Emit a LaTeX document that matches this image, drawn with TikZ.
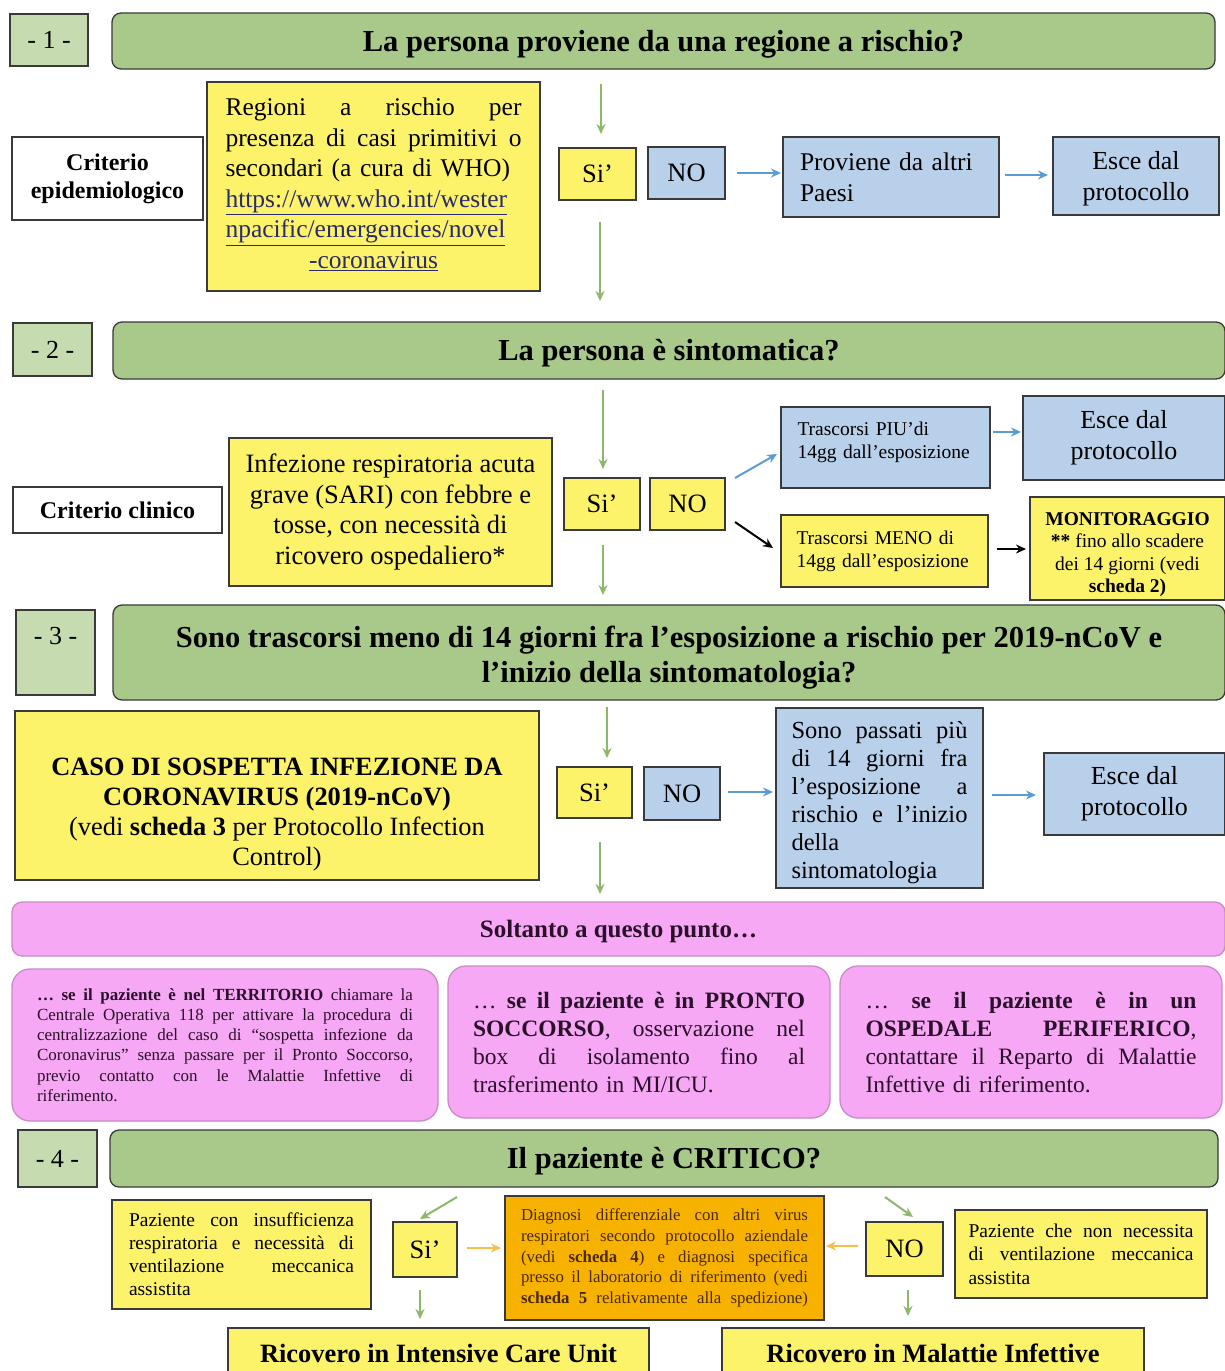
\documentclass[tikz,border=0pt]{standalone}
\usepackage{fontspec}
\setmainfont{Liberation Serif}
\usetikzlibrary{arrows.meta}
\definecolor{tgreen}{HTML}{A9C98B}
\definecolor{ngreen}{HTML}{C6DCB0}
\definecolor{yel}{HTML}{FDF36B}
\definecolor{blu}{HTML}{B9D0EA}
\definecolor{pnk}{HTML}{F7A8F4}
\definecolor{pnkb}{HTML}{C88AC8}
\definecolor{org}{HTML}{F7B200}
\definecolor{agreen}{HTML}{8DB86B}
\definecolor{ablue}{HTML}{5B9BD5}
\definecolor{aorg}{HTML}{F9BE4A}
\definecolor{bord}{HTML}{3A3A3A}
\definecolor{urlc}{HTML}{2B2B6B}
\definecolor{ptext}{HTML}{2A102A}
\definecolor{otext}{HTML}{4A2800}
\newlength\jw
\newcommand\jl[1]{\leavevmode\hbox to \jw{\spaceskip=0.25em plus 1fil\relax #1}}
\newcommand\fs[2]{\fontsize{#1}{#2}\selectfont}
\begin{document}
\begin{tikzpicture}[x=1pt,y=-1pt,
 bx/.style={draw=bord,line width=1.3pt,inner sep=0pt,align=center,text=black},
 txt/.style={inner sep=0pt,align=center},
 jwid/.style={text width=#1,align=left},
 gbar/.style={bx,fill=tgreen,rounded corners=9pt,font=\fs{30.5}{35}\bfseries},
 gline/.style={text height=20pt,text depth=0pt},
 num/.style={bx,fill=ngreen,font=\fs{26}{28}},
 ybox/.style={bx,fill=yel},
 bbox/.style={bx,fill=blu},
 wbox/.style={bx,fill=white,font=\fs{24}{28}\bfseries},
 obox/.style={bx,fill=org,text=otext},
 pbox/.style={draw=pnkb,line width=1.3pt,fill=pnk,inner sep=0pt,text=ptext,rounded corners=18pt},
 yn/.style={font=\fs{26.5}{28}},
 garrow/.style={draw=agreen,line width=2pt,-{Stealth[length=10pt,width=9pt]}},
 barrow/.style={draw=ablue,line width=2pt,-{Stealth[length=10pt,width=9pt]}},
 karrow/.style={draw=black,line width=2pt,-{Stealth[length=10pt,width=9pt]}},
 oarrow/.style={draw=aorg,line width=2pt,-{Stealth[length=10pt,width=9pt]}},
]
\useasboundingbox[fill=white] (0,0) rectangle (1225,1371);

% ---------- Section 1
\node[num,minimum width=78,minimum height=52] (n1) at (49,40) {- 1 -};
\node[gbar,gline,minimum width=1103,minimum height=56] (t1) at (663.5,41) {La persona proviene da una regione a rischio?};
\node[wbox,minimum width=191,minimum height=83] (crit1) at (107.5,178.5) {Criterio\\epidemiologico};
\node[ybox,minimum width=333,minimum height=209] (reg) at (373.5,186.5) {};
\node[txt,jwid=296pt,font=\fs{25.5}{30.5}] (regt) at (373.5,184.5)
 {\setlength\jw{296pt}%
  \jl{Regioni a rischio per}\\
  \jl{presenza di casi primitivi o}\\
  secondari (a cura di WHO)\\
  \textcolor{urlc}{\underline{https://www.who.int/wester}}\\
  \textcolor{urlc}{\underline{npacific/emergencies/novel}}\\
  \jl{\hfil\textcolor{urlc}{\underline{-coronavirus}}\hfil}};
\node[ybox,yn,minimum width=77,minimum height=52] (si1) at (597.5,174) {Si’};
\node[bbox,yn,minimum width=77,minimum height=52] (no1) at (686.5,173) {NO};
\node[bbox,minimum width=216,minimum height=80,text width=182,align=left,font=\fs{25.5}{31}] (prov) at (891,177) {Proviene da altri\\Paesi};
\node[bbox,minimum width=166,minimum height=78] (esce1) at (1136,176) {};
\node[txt,font=\fs{26}{31}] (esce1t) at (1136,179) {Esce dal\\protocollo};
\coordinate (a1a) at (601,84);   \coordinate (a1b) at (601,134);
\coordinate (a1c) at (600,222);  \coordinate (a1d) at (600,301);
\coordinate (a1e) at (737,173);  \coordinate (a1f) at (781,173);
\coordinate (a1g) at (1005,175); \coordinate (a1h) at (1048,175);
\draw[garrow] (a1a) -- (a1b);
\draw[garrow] (a1c) -- (a1d);
\draw[barrow] (a1e) -- (a1f);
\draw[barrow] (a1g) -- (a1h);

% ---------- Section 2
\node[num,minimum width=79,minimum height=53] (n2) at (52.5,349.5) {- 2 -};
\node[gbar,gline,minimum width=1112,minimum height=57] (t2) at (669,350.5) {La persona è sintomatica?};
\node[wbox,minimum width=209,minimum height=46] (crit2) at (117.5,510) {Criterio clinico};
\node[ybox,minimum width=323,minimum height=148,font=\fs{26.5}{30.5}] (sari) at (390.5,512)
 {Infezione respiratoria acuta\\grave (SARI) con febbre e\\tosse, con necessità di\\ricovero ospedaliero*};
\node[ybox,yn,minimum width=76,minimum height=52] (si2) at (602,504) {Si’};
\node[ybox,yn,minimum width=75,minimum height=52] (no2) at (687.5,504) {NO};
\node[bbox,minimum width=209,minimum height=81] (piu) at (885.5,447.5) {};
\node[txt,text width=176,align=left,font=\fs{19.5}{23}] (piut) at (885.5,442.5) {Trascorsi PIU’di\\14gg dall’esposizione};
\node[bbox,minimum width=202,minimum height=84,font=\fs{26}{31}] (esce2) at (1124,438) {Esce dal\\protocollo};
\node[ybox,minimum width=207,minimum height=72,text width=176,align=left,font=\fs{19.5}{23}] (meno) at (884.5,551) {Trascorsi MENO di\\14gg dall’esposizione};
\node[ybox,minimum width=195,minimum height=103] (monit) at (1127.5,548.5) {};
\node[txt,font=\fs{19.5}{22.5}] (monitt) at (1127.5,554.5)
 {\textbf{MONITORAGGIO}\\\textbf{**} fino allo scadere\\dei 14 giorni (vedi\\\textbf{scheda 2)}};
\coordinate (a2a) at (603,390);  \coordinate (a2b) at (603,469);
\coordinate (a2c) at (603,545);  \coordinate (a2d) at (603,595);
\coordinate (a2e) at (735,478);  \coordinate (a2f) at (777,454);
\coordinate (a2g) at (735,522);  \coordinate (a2h) at (773,548);
\coordinate (a2i) at (993,432);  \coordinate (a2j) at (1021,432);
\coordinate (a2k) at (997,549);  \coordinate (a2l) at (1026,549);
\draw[garrow] (a2a) -- (a2b);
\draw[garrow] (a2c) -- (a2d);
\draw[barrow] (a2e) -- (a2f);
\draw[karrow] (a2g) -- (a2h);
\draw[barrow] (a2i) -- (a2j);
\draw[karrow] (a2k) -- (a2l);

% ---------- Section 3
\node[num,minimum width=79,minimum height=85] (n3) at (55.5,652.5) {};
\node[txt,font=\fs{26}{28}] (n3t) at (55.5,636) {- 3 -};
\node[gbar,minimum width=1112,minimum height=95] (t3) at (669,652.5) {};
\node[txt,font=\fs{30.5}{35}\bfseries] (t3t) at (669,658)
 {Sono trascorsi meno di 14 giorni fra l’esposizione a rischio per 2019-nCoV e\\l’inizio della sintomatologia?};
\node[ybox,minimum width=524,minimum height=169] (caso) at (277,795.5) {};
\node[txt,font=\fs{26.4}{30}] (casot) at (277,814.5)
 {\textbf{CASO DI SOSPETTA INFEZIONE DA}\\\textbf{CORONAVIRUS (2019-nCoV)}\\(vedi \textbf{scheda 3} per Protocollo Infection\\Control)};
\node[ybox,yn,minimum width=75,minimum height=51] (si3) at (594.5,792.5) {Si’};
\node[bbox,yn,minimum width=76,minimum height=53] (no3) at (682,793.5) {NO};
\node[bbox,minimum width=207,minimum height=180] (sono) at (879.5,798) {};
\node[txt,jwid=176pt,font=\fs{24.5}{28}] (sonot) at (879.5,803)
 {\setlength\jw{176pt}%
  \jl{Sono passati più}\\
  \jl{di 14 giorni fra}\\
  \jl{l’esposizione a}\\
  \jl{rischio e l’inizio}\\
  della\\
  sintomatologia};
\node[bbox,minimum width=181,minimum height=82,font=\fs{26}{31}] (esce3) at (1134.5,794) {Esce dal\\protocollo};
\coordinate (a3a) at (607,707);  \coordinate (a3b) at (607,758);
\coordinate (a3c) at (600,842);  \coordinate (a3d) at (600,894);
\coordinate (a3e) at (728,792);  \coordinate (a3f) at (773,792);
\coordinate (a3g) at (992,795);  \coordinate (a3h) at (1036,795);
\draw[garrow] (a3a) -- (a3b);
\draw[garrow] (a3c) -- (a3d);
\draw[barrow] (a3e) -- (a3f);
\draw[barrow] (a3g) -- (a3h);

% ---------- Pink
\node[pbox,rounded corners=10pt,minimum width=1213,minimum height=54,font=\fs{25}{26}\bfseries,text height=17pt,text depth=0pt] (pbar) at (618.5,929) {Soltanto a questo punto…};
\node[pbox,minimum width=426,minimum height=152,jwid=376pt,font=\fs{17}{20.2}] (pk1) at (225,1045)
 {\setlength\jw{376pt}%
  \jl{\textbf{… se il paziente è nel TERRITORIO} chiamare la}\\
  \jl{Centrale Operativa 118 per attivare la procedura di}\\
  \jl{centralizzazione del caso di “sospetta infezione da}\\
  \jl{Coronavirus” senza passare per il Pronto Soccorso,}\\
  \jl{previo contatto con le Malattie Infettive di}\\
  riferimento.};
\node[pbox,minimum width=382,minimum height=152,jwid=332pt,font=\fs{23.5}{28}] (pk2) at (639,1042)
 {\setlength\jw{332pt}%
  \jl{… \textbf{se il paziente è in PRONTO}}\\
  \jl{\textbf{SOCCORSO}, osservazione nel}\\
  \jl{box di isolamento fino al}\\
  trasferimento in MI/ICU.};
\node[pbox,minimum width=382,minimum height=152,jwid=331pt,font=\fs{23.5}{28}] (pk3) at (1031,1042)
 {\setlength\jw{331pt}%
  \jl{… \textbf{se il paziente è in un}}\\
  \jl{\textbf{OSPEDALE PERIFERICO},}\\
  \jl{contattare il Reparto di Malattie}\\
  Infettive di riferimento.};

% ---------- Section 4
\node[num,minimum width=79,minimum height=57] (n4) at (57.5,1158.5) {- 4 -};
\node[gbar,gline,minimum width=1108,minimum height=57] (t4) at (664,1158.5) {Il paziente è CRITICO?};
\node[ybox,minimum width=259,minimum height=109,jwid=225pt,font=\fs{19.5}{23}] (left4) at (241.5,1254.5)
 {\setlength\jw{225pt}%
  \jl{Paziente con insufficienza}\\
  \jl{respiratoria e necessità di}\\
  \jl{ventilazione meccanica}\\
  assistita};
\node[ybox,yn,minimum width=64,minimum height=55] (si4) at (425,1249.5) {Si’};
\node[obox,minimum width=319,minimum height=124,jwid=287pt,font=\fs{16.8}{20.7}] (diag) at (664.5,1258)
 {\setlength\jw{287pt}%
  \jl{Diagnosi differenziale con altri virus}\\
  \jl{respiratori secondo protocollo aziendale}\\
  \jl{(vedi \textbf{scheda 4}) e diagnosi specifica}\\
  \jl{presso il laboratorio di riferimento (vedi}\\
  \jl{\textbf{scheda 5} relativamente alla spedizione)}};
\node[ybox,yn,minimum width=77,minimum height=54] (no4) at (904.5,1249) {NO};
\node[ybox,minimum width=252,minimum height=88,jwid=225pt,font=\fs{19.5}{23.5}] (right4) at (1081,1254)
 {\setlength\jw{225pt}%
  \jl{Paziente che non necessita}\\
  \jl{di ventilazione meccanica}\\
  assistita};
\node[ybox,minimum width=421,minimum height=50,font=\fs{26.4}{28}\bfseries] (icu) at (438.5,1353) {Ricovero in Intensive Care Unit};
\node[ybox,minimum width=422,minimum height=50,font=\fs{26.4}{28}\bfseries] (mi) at (933,1353) {Ricovero in Malattie Infettive};
\coordinate (a4a) at (457,1197); \coordinate (a4b) at (420,1219);
\coordinate (a4c) at (885,1197); \coordinate (a4d) at (913,1217);
\coordinate (a4e) at (467,1248); \coordinate (a4f) at (501,1248);
\coordinate (a4g) at (858,1246); \coordinate (a4h) at (826,1246);
\coordinate (a4i) at (420,1290); \coordinate (a4j) at (420,1319);
\coordinate (a4k) at (908,1290); \coordinate (a4l) at (908,1316);
\draw[garrow] (a4a) -- (a4b);
\draw[garrow] (a4c) -- (a4d);
\draw[oarrow] (a4e) -- (a4f);
\draw[oarrow] (a4g) -- (a4h);
\draw[garrow] (a4i) -- (a4j);
\draw[garrow] (a4k) -- (a4l);
\end{tikzpicture}
\end{document}
